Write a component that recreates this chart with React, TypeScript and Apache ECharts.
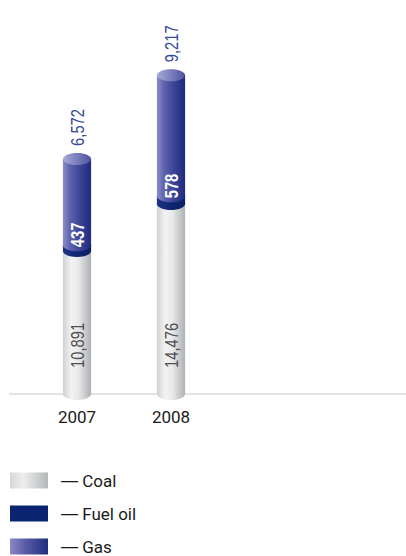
import React, { useEffect, useRef } from "react";
import * as echarts from "echarts";

const years = ["2007", "2008"];
const coal = [10891, 14476];
const fuelOil = [437, 578];
const gas = [6572, 9217];
const seriesNames = ["Coal", "Fuel oil", "Gas"];

const FONT = 'Roboto, "Liberation Sans", sans-serif';
const LABEL_FONT = '"Liberation Sans", Arial, sans-serif';

const lg = (stops: [number, string][]) =>
  new echarts.graphic.LinearGradient(0, 0, 1, 0, stops.map(([offset, color]) => ({ offset, color })));

const coalBody = () => lg([[0, "#cfd1d3"], [0.3, "#f3f3f3"], [0.55, "#e8e9ea"], [1, "#aeb0b3"]]);
const oilBody = () => lg([[0, "#1b3484"], [0.5, "#0e2672"], [1, "#0a1e64"]]);
const gasBody = () => lg([[0, "#8c8ec8"], [0.25, "#5f63ae"], [0.6, "#3c4496"], [1, "#1e2b7e"]]);
const gasCap = () => lg([[0, "#a9abd6"], [0.5, "#7a7ebd"], [1, "#4c529f"]]);

export default function App() {
  const ref = useRef<HTMLDivElement>(null);
  useEffect(() => {
    if (!ref.current) return;
    const chart = echarts.init(ref.current, undefined, { renderer: "svg" });

    const bases = years.map((_, i) => [0, coal[i], coal[i] + fuelOil[i], coal[i] + fuelOil[i] + gas[i]]);
    const values = [coal, fuelOil, gas];
    const bodies = [coalBody, oilBody, gasBody];
    const caps = [coalBody, oilBody, gasCap];
    const legendColors = [
      lg([[0, "#d6d7d9"], [0.35, "#eeeeee"], [1, "#b4b6b8"]]),
      "#0b2470",
      lg([[0, "#8a88c2"], [0.4, "#5a5ca8"], [1, "#1d2f80"]]),
    ];

    const ry = 6;

    const segSeries = seriesNames.map((name, s) => ({
      type: "custom",
      name,
      z: 2 + s,
      itemStyle: { color: legendColors[s] },
      data: years.map((_, i) => [i, bases[i][s], bases[i][s] + values[s][i]]),
      renderItem: (params: any, api: any) => {
        const x = api.value(0);
        const lo = api.coord([x, api.value(1)]);
        const hi = api.coord([x, api.value(2)]);
        const w = api.size([1, 0])[0] * 0.3;
        const rx = w / 2;
        const cx = lo[0];
        return {
          type: "group",
          children: [
            { type: "ellipse", shape: { cx, cy: lo[1], rx, ry }, style: { fill: bodies[s]() } },
            { type: "rect", shape: { x: cx - rx, y: hi[1], width: w, height: lo[1] - hi[1] }, style: { fill: bodies[s]() } },
            { type: "ellipse", shape: { cx, cy: hi[1], rx, ry }, style: { fill: caps[s]() } },
          ],
        };
      },
    }));

    const labelSeries = {
      type: "custom",
      name: "labels",
      z: 10,
      data: years.map((_, i) => [i, coal[i], fuelOil[i], gas[i]]),
      renderItem: (params: any, api: any) => {
        const x = api.value(0);
        const c = api.value(1);
        const o = api.value(2);
        const g = api.value(3);
        const base = api.coord([x, 0]);
        const oilTop = api.coord([x, c + o]);
        const top = api.coord([x, c + o + g]);
        const cx = base[0];
        const fmt = (v: number) => v.toLocaleString("en-US");
        const txt = (y: number, text: string, fill: string, weight: string) => ({
          type: "text",
          x: cx,
          y,
          rotation: Math.PI / 2,
          scaleX: 0.82,
          style: {
            text,
            fill,
            fontSize: 18,
            fontFamily: LABEL_FONT,
            fontWeight: weight,
            align: "left",
            verticalAlign: "middle",
          },
        });
        return {
          type: "group",
          children: [
            txt(base[1] - 26, fmt(c), "#505050", "normal"),
            txt(oilTop[1] + 2, fmt(o), "#ffffff", "bold"),
            txt(top[1] - ry - 7, fmt(g), "#33489c", "normal"),
          ],
        };
      },
    };

    chart.setOption({
      animation: false,
      grid: { left: 30, right: 0, top: 0, bottom: 162 },
      xAxis: {
        type: "category",
        data: years,
        max: 3,
        axisLine: { show: true, lineStyle: { color: "#e3e3e3", width: 2 } },
        axisTick: { show: false },
        axisLabel: { color: "#1a1a1a", fontSize: 17, fontFamily: FONT, margin: 14 },
      },
      yAxis: { type: "value", min: 0, max: 30000, show: false, splitLine: { show: false } },
      legend: {
        data: seriesNames,
        orient: "vertical",
        left: 10,
        top: 472,
        height: 120,
        padding: 0,
        icon: "rect",
        itemWidth: 38,
        itemHeight: 16,
        itemGap: 16,
        formatter: (name: string) => `{d|—} ${name}`,
        textStyle: {
          fontSize: 17,
          fontFamily: FONT,
          color: "#1a1a1a",
          padding: [0, 0, 0, 8],
          rich: { d: { fontSize: 17, fontFamily: LABEL_FONT, color: "#1a1a1a" } },
        },
        selectedMode: false,
      },
      graphic: [
        { type: "line", shape: { x1: 9, y1: 394, x2: 31, y2: 394 }, style: { stroke: "#e3e3e3", lineWidth: 2 } },
      ],
      series: [...segSeries, labelSeries],
    });
    return () => chart.dispose();
  }, []);
  return <div ref={ref} style={{ position: "absolute", left: 0, top: 0, width: 406, height: 556 }} />;
}
